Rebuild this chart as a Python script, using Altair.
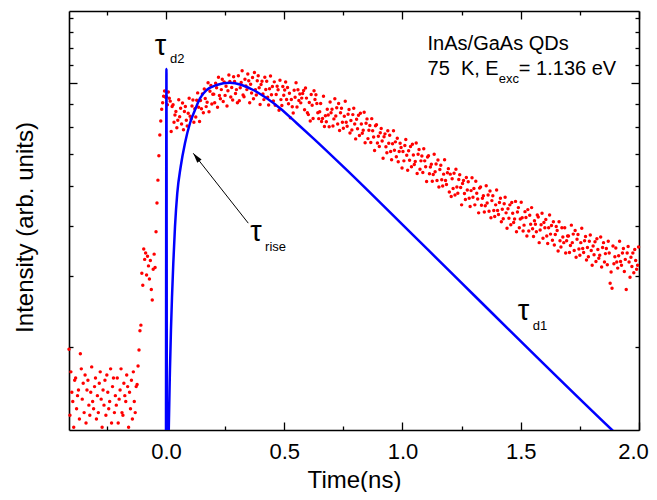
import altair as alt
import pandas as pd

DT = 0.004
FONT = "Liberation Sans"

# ---- measured photoluminescence transient (red dots) ----
bg_start = -0.410
bg_vals = [1.98, 1.36, 1.74, 1.55, 1.47, 1.27, 1.66, 1.68, 1.41, 1.52, 1.57, 1.33,
           1.93, 1.77, 1.49, 1.63, 1.38, 1.71, 1.30, 1.57, 1.66, 1.44, 1.36, 1.55,
           1.79, 1.47, 1.41, 1.60, 1.68, 1.33, 1.52, 1.38, 1.63, 1.74, 1.49, 1.27,
           1.57, 1.44, 1.66, 1.36, 1.71, 1.55, 1.41, 1.47, 1.77, 1.30, 1.60, 1.68,
           1.38, 1.52, 1.44, 1.68, 1.30, 1.49, 1.57, 1.77, 1.38, 1.36, 1.63, 1.52,
           1.47, 1.71, 1.60, 1.27, 1.55, 1.41, 1.66, 1.33, 1.74, 1.47, 1.38, 1.60]

edge_start = -0.122
edge_vals = [1.62, 1.80, 1.97, 2.20, 2.27, 3.05, 2.85, 3.50, 3.30, 3.42, 3.02,
             3.36, 3.18, 2.95, 3.28, 2.78, 2.62, 3.12, 3.40, 3.15, 3.86, 4.55,
             5.18, 5.95, 6.70, 7.25, 7.75, 8.05, 8.35, 8.60, 8.30]

main_start = 0.002
early_vals = [
    8.32, 7.95, 8.55, 8.25, 8.12, 6.83, 7.88, 7.95, 7.20, 7.50, 7.65, 6.98, 7.28,
    8.18, 7.43, 7.80, 7.13, 8.03, 6.90, 7.65, 7.88, 7.28, 7.05, 7.58, 8.25,
    7.45, 7.33, 7.90, 8.17, 7.20, 7.78, 7.42, 8.16, 8.51, 7.84, 7.23, 8.15, 7.78,
    8.46, 7.60, 8.70, 8.24, 7.87, 8.07, 9.01, 7.64, 8.59, 8.87, 7.99, 8.44,
    8.45, 8.05, 8.99, 8.76, 7.84, 9.30, 8.38, 8.23, 8.67, 9.20, 8.10, 9.06, 8.39,
    8.84, 7.90, 8.61, 9.42, 9.08, 8.31, 8.77, 8.17, 9.33, 9.08, 8.48, 8.67,
    8.05, 9.38, 8.14, 8.76, 9.03, 9.65, 8.41, 8.32, 9.20, 8.85, 8.67, 9.47, 9.12,
    8.05, 8.94, 8.50, 9.29, 8.23, 9.56, 8.67, 8.41, 9.12, 9.38, 8.76, 7.97,
    8.93, 9.09, 8.46, 8.19, 9.30, 8.68, 9.09, 8.30, 7.94, 8.71, 9.37, 8.42, 8.83,
    8.13, 9.06, 7.93, 8.43, 8.84, 8.66, 7.71, 9.14, 8.19, 7.92, 8.83, 8.40]
mid_vals = [
    8.65, 9.05, 8.20, 8.77, 8.00, 8.49, 7.39, 8.20, 7.86, 7.59, 8.64, 8.30, 9.02,
    7.85, 8.66, 8.15, 8.46, 8.04, 8.26, 8.48, 8.63, 7.73, 8.75, 8.26, 7.60,
    7.52, 8.06, 7.25, 8.43, 7.93, 7.36, 8.61, 8.20, 8.42, 8.01, 7.60, 7.35, 7.64,
    8.01, 7.23, 7.36, 8.35, 7.03, 7.47, 7.22, 7.75, 7.50, 7.02, 8.08, 7.60,
    7.75, 7.05, 7.34, 8.23, 7.46, 7.82, 7.13, 8.01, 6.87, 7.60, 7.80, 7.20, 6.96,
    7.45, 8.11, 7.20, 7.04, 7.54, 7.74, 6.77, 7.27, 6.89, 7.52, 7.80, 7.13,
    6.55, 7.32, 6.94, 7.49, 6.68, 7.58, 7.13, 6.76, 6.88, 7.62, 6.41, 7.16, 7.34,
    6.56, 6.88, 7.07, 6.42, 7.35, 6.86, 6.62, 6.13, 7.06, 7.10, 6.40, 6.65,
    6.27, 6.78, 6.95, 6.47, 5.87, 6.63, 6.74, 6.26, 6.05, 6.86, 6.39, 6.69, 6.10,
    5.82, 6.37, 6.86, 6.14, 6.44, 5.92, 6.57, 5.75, 6.10, 6.39, 6.24, 5.55]
late_vals = [
    6.10, 5.78, 6.31, 6.53, 5.97, 5.48, 6.12, 5.80, 6.27, 5.59, 6.35, 5.98, 5.66,
    5.76, 6.40, 5.38, 6.00, 6.17, 5.51, 5.78, 5.94, 5.41, 6.19, 5.78, 5.59,
    5.14, 5.91, 5.95, 5.37, 5.58, 5.67, 5.15, 5.35, 6.00, 5.43, 5.68, 5.17, 5.81,
    4.98, 5.50, 5.64, 5.19, 5.01, 5.36, 5.82, 5.17, 5.05, 5.40, 5.53, 4.84,
    5.36, 4.72, 5.22, 4.94, 5.39, 4.76, 5.51, 4.98, 4.81, 5.20, 5.34, 4.97, 4.50,
    5.08, 5.17, 4.80, 4.64, 5.26, 4.90, 5.13, 4.67, 4.46, 4.88, 5.25, 4.70,
    4.94, 4.50, 5.15, 4.81, 4.65, 4.30, 4.95, 4.98, 4.49, 4.67, 4.74, 4.32, 4.48,
    5.02, 4.55, 4.76, 4.34, 4.87, 4.18, 4.61, 4.74, 4.36, 4.21, 4.50, 4.90,
    4.36, 4.26, 4.56, 4.67, 4.09, 4.39, 4.16, 4.53, 4.70, 4.30, 3.94, 4.40, 4.17,
    4.50, 4.02, 4.56, 4.29, 4.07, 4.15, 4.59, 3.86, 4.32, 4.43, 3.95, 4.15]
tail_vals = [
    4.57, 4.18, 3.88, 4.01, 4.33, 4.19, 3.77, 4.38, 3.88, 4.24, 4.03, 4.43, 3.93,
    3.76, 4.11, 4.03, 3.86, 4.25, 4.20, 3.63, 3.90, 4.02, 4.29, 3.72, 4.07,
    3.95, 4.14, 3.77, 3.61, 3.95, 4.25, 3.81, 4.00, 3.68, 4.09, 3.58, 3.80, 3.98,
    3.89, 3.46, 4.09, 3.67, 3.54, 3.95, 3.75, 3.63, 3.95, 3.42, 3.67, 3.77,
    3.77, 3.43, 3.57, 4.01, 3.63, 3.81, 3.47, 3.89, 3.34, 3.70, 3.80, 3.50, 3.38,
    3.63, 3.94, 3.51, 3.43, 3.67, 3.76, 3.29, 3.53, 3.35, 3.66, 3.79, 3.47,
    3.19, 3.56, 3.39, 3.65, 3.26, 3.71, 3.49, 3.32, 3.38, 3.75, 3.16, 3.53, 3.63,
    3.25, 3.41, 3.51, 3.20, 3.66, 3.42, 2.88, 3.07, 2.80, 3.56, 3.22, 3.35,
    3.52, 3.25, 3.14, 3.37, 3.66, 3.26, 3.19, 3.42, 3.51, 3.08, 3.30, 2.78, 3.42,
    3.55, 3.25, 2.98, 3.34, 3.17, 3.42, 3.06, 3.49, 3.28, 3.12, 3.19, 3.54]

# ---- fitted curve (blue line) ----
fit_t = [0.000, 0.002, 0.004, 0.0106, 0.0118, 0.0169, 0.0211, 0.0254, 0.0309,
         0.0381, 0.0478, 0.0622, 0.0803, 0.1015, 0.1226, 0.1438, 0.1721, 0.2144,
         0.2706, 0.320, 0.369, 0.426, 0.482, 0.553, 0.623, 0.764, 1.045, 1.886,
         1.941]
fit_v = [1.00, 9.75, 1.00, 1.117, 1.25, 1.765, 2.21, 2.652, 3.22,
         3.97, 4.81, 5.59, 6.39, 7.16, 7.72, 8.25, 8.65, 8.90,
         9.02, 8.90, 8.65, 8.25, 7.80, 7.16, 6.57, 5.49, 3.787, 1.25,
         1.165]

# ---- annotations ----
ann_text = ["τ", "d2", "τ", "rise", "τ", "d1",
            "InAs/GaAs QDs", "75\u00a0 K, E", "exc", "= 1.136 eV"]
ann_t = [-0.047, 0.017, 0.356, 0.419, 1.487, 1.551, 1.106, 1.106, 1.407, 1.492]
ann_v = [10.56, 10.09, 3.666, 3.464, 2.339, 2.21, 10.86, 9.42, 9.00, 9.42]
ann_size = [29, 13, 29, 13, 29, 13, 20, 20, 13, 20]

arrow_t = [0.348, 0.1154]
arrow_v = [4.055, 6.035]
arrowhead_t = [0.1285]
arrowhead_v = [5.904]

x_ticks = [-0.25, 0.0, 0.25, 0.5, 0.75, 1.0, 1.25, 1.5, 1.75, 2.0]
y_ticks = [2, 3, 4, 5, 6, 7, 8, 9, 10, 11, 12, 13]


def grid(start, n):
    return [round(start + DT * i, 4) for i in range(n)]


main_vals = early_vals + mid_vals + late_vals + tail_vals
pts = pd.DataFrame({
    "t": grid(bg_start, len(bg_vals)) + grid(edge_start, len(edge_vals))
         + grid(main_start, len(main_vals)),
    "v": bg_vals + edge_vals + main_vals,
})
fit = pd.DataFrame({"t": fit_t, "v": fit_v})
ann = pd.DataFrame({"t": ann_t, "v": ann_v, "text": ann_text, "size": ann_size})
arrow = pd.DataFrame({"t": arrow_t, "v": arrow_v})
head = pd.DataFrame({"t": arrowhead_t, "v": arrowhead_v})

xs = alt.Scale(domain=[-0.41, 2.0], nice=False, zero=False)
ys = alt.Scale(type="log", domain=[1.25, 13.56], nice=False)

x_tick_expr = alt.ExprRef(expr="datum.value % 0.5 === 0 ? -8 : -4")
y_tick_expr = alt.ExprRef(expr="datum.value === 9 ? -8 : -4")

common = dict(grid=False, domainColor="black", domainWidth=1.6,
              tickColor="black", tickWidth=1.3)

ax_bottom = alt.Axis(orient="bottom", values=x_ticks, tickSize=x_tick_expr,
                     labelExpr="datum.value % 0.5 === 0 ? format(datum.value, '.1f') : ''",
                     labelOffset=alt.ExprRef(expr="datum.value === 2 ? -6 : 0"),
                     labelFont=FONT, labelFontSize=22, labelColor="black",
                     labelPadding=19, labelFlush=False, labelOverlap=False,
                     title="Time(ns)", titleFont=FONT, titleFontSize=24,
                     titleFontWeight="normal", titleColor="black",
                     titleX=285, titleY=57, titleAlign="center",
                     titleBaseline="alphabetic", **common)
ax_top = alt.Axis(orient="top", values=x_ticks, tickSize=x_tick_expr,
                  labels=False, title=None, **common)
ax_left = alt.Axis(orient="left", values=y_ticks, tickSize=y_tick_expr,
                   labels=False, title="Intensity (arb. units)", titleFont=FONT,
                   titleFontSize=24, titleFontWeight="normal", titleColor="black",
                   titleX=-37, titleY=216, titleAngle=270, titleAlign="center",
                   titleBaseline="alphabetic", **common)
ax_right = alt.Axis(orient="right", values=y_ticks, tickSize=y_tick_expr,
                    labels=False, title=None, **common)

points = alt.Chart(pts).mark_circle(size=12, color="#ff0000", opacity=1).encode(
    x=alt.X("t:Q", scale=xs, axis=ax_bottom),
    y=alt.Y("v:Q", scale=ys, axis=ax_left),
)

line = alt.Chart(fit).mark_line(color="#0000ff", strokeWidth=2.5, clip=True,
                                interpolate="monotone").encode(
    x=alt.X("t:Q", scale=xs, axis=ax_top),
    y=alt.Y("v:Q", scale=ys, axis=ax_right),
)

arrow_line = alt.Chart(arrow).mark_line(color="black", strokeWidth=1).encode(
    x=alt.X("t:Q", scale=xs, axis=None),
    y=alt.Y("v:Q", scale=ys, axis=None),
)

arrow_head = alt.Chart(head).mark_point(
    shape="M0,-1L0.55,1L-0.55,1Z", size=100, angle=322, filled=True,
    color="black", opacity=1, strokeWidth=0).encode(
    x=alt.X("t:Q", scale=xs, axis=None),
    y=alt.Y("v:Q", scale=ys, axis=None),
)

labels = alt.Chart(ann).mark_text(align="left", baseline="alphabetic",
                                  font=FONT, color="black").encode(
    x=alt.X("t:Q", scale=xs, axis=None),
    y=alt.Y("v:Q", scale=ys, axis=None),
    text="text:N",
    size=alt.Size("size:Q", scale=None, legend=None),
)

chart = alt.layer(points, line, arrow_line, arrow_head, labels).resolve_axis(
    x="independent", y="independent"
).properties(
    width=570, height=419,
    padding={"left": 61, "top": 3, "right": 10, "bottom": 62},
    autosize="none",
    background="white",
).configure_view(stroke=None)

chart.save("out.html", embed_options={"renderer": "svg", "actions": False})
